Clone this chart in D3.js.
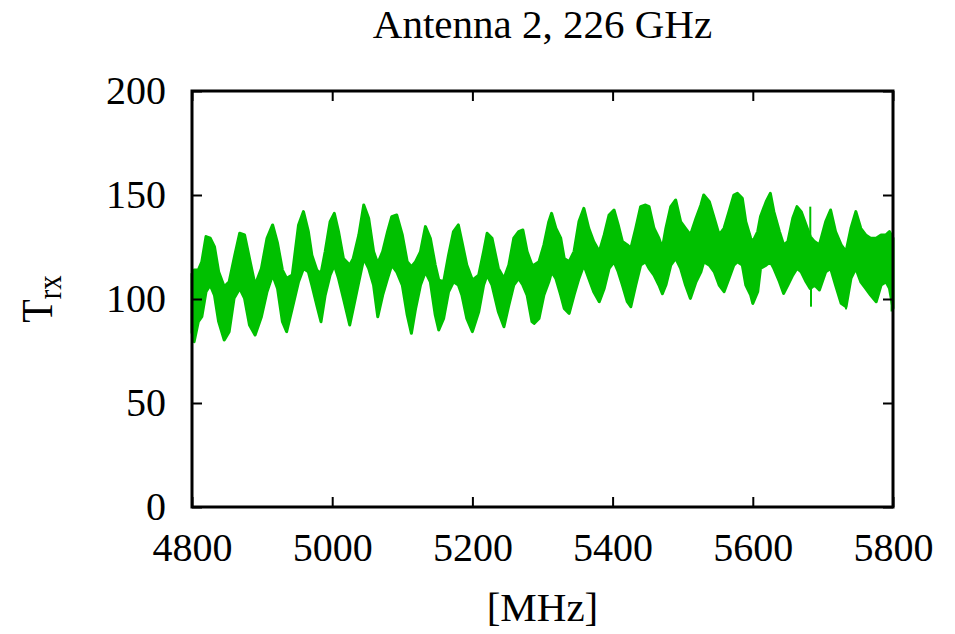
<!DOCTYPE html>
<html>
<head>
<meta charset="utf-8">
<script src="https://cdn.jsdelivr.net/npm/d3@7"></script>
<style>
  body { margin: 0; background: #fff; }
  text { font-family: "Liberation Serif", "Times New Roman", serif; }
</style>
</head>
<body>
<div id="trxChart"></div>
<script>
// values: upper / lower edge of the noisy trace
const freqMHz = [4800, 4803, 4809, 4814, 4820, 4826, 4832, 4838, 4846, 4853, 4860, 4868, 4875, 4882, 4890, 4899, 4907, 4915, 4922, 4929, 4935, 4943, 4952, 4959,
  4966, 4971, 4978, 4984, 4990, 4997, 5003, 5009, 5016, 5025, 5030, 5038, 5045, 5052, 5059, 5065, 5072, 5079, 5085, 5092, 5100, 5107, 5113, 5119,
  5126, 5133, 5140, 5147, 5152, 5159, 5166, 5173, 5180, 5185, 5192, 5200, 5209, 5216, 5221, 5228, 5237, 5245, 5252, 5259, 5266, 5272, 5278, 5285,
  5288, 5295, 5302, 5309, 5313, 5319, 5326, 5331, 5338, 5345, 5352, 5359, 5366, 5373, 5381, 5388, 5395, 5402, 5408, 5414, 5421, 5426, 5433, 5440,
  5447, 5452, 5459, 5466, 5471, 5476, 5483, 5490, 5497, 5504, 5511, 5519, 5526, 5530, 5538, 5545, 5552, 5559, 5566, 5573, 5578, 5585, 5590, 5597, 5600, 5607,
  5611, 5619, 5625, 5630, 5638, 5644, 5650, 5657, 5663, 5669, 5676, 5682, 5688, 5695, 5704, 5711, 5718, 5726, 5733, 5740, 5747, 5754, 5761, 5768, 5776, 5783, 5790, 5795, 5800];

const trxHigh = [112, 113.9, 113.9, 117.9, 130.0, 129.2, 125.2, 113.1, 105.9, 108.3, 119.5, 131.6, 130.8, 119.5, 106.7, 114.7, 129.2, 135.6, 126.8, 113.9, 109.9, 111.5, 135.6, 142.0,
  132.4, 121.1, 113.9, 112.3, 122.8, 137.2, 141.2, 132.4, 119.5, 116.3, 119.5, 130.8, 145.2, 138.8, 122.8, 117.1, 122.8, 132.4, 139.6, 140.4, 130.8, 117.9, 115.5, 117.9,
  122.8, 134.8, 129.2, 116.3, 109.1, 108.3, 121.1, 132.4, 135.6, 127.6, 116.3, 109.1, 111.5, 122.8, 131.6, 129.2, 114.7, 109.9, 116.3, 129.2, 132.4, 133.2, 122.8, 116.3,
  116.3, 117.9, 126.0, 137.2, 141.2, 134.0, 129.2, 119.5, 117.9, 122.8, 137.2, 143.6, 134.0, 127.6, 122.8, 130.8, 140.4, 142.8, 135.6, 127.6, 126.0, 124.4, 134.0, 144.4,
  145.2, 144.4, 134.0, 129.2, 124.4, 134.0, 144.4, 147.6, 137.2, 134.0, 130.8, 138.8, 145.2, 150.0, 146.8, 138.8, 130.8, 134.0, 142.0, 150.0, 150.8, 148.4, 137.2, 129.2, 127.6, 132.4,
  139.6, 146.8, 150.8, 142.0, 132.4, 126.0, 127.6, 138.8, 144.4, 142.0, 135.6, 130.0, 127.6, 126.0, 137.2, 142.8, 132.4, 126.0, 122.8, 134.0, 142.0, 134.0, 130.8, 129.2, 129.2, 130.8, 130.8, 132.4, 129.2];

const trxLow = [84, 79.5, 89.1, 91.5, 103.5, 106.7, 101.9, 89.1, 80.3, 84.3, 100.3, 105.1, 100.3, 87.5, 82.7, 91.5, 103.5, 111.5, 105.1, 89.1, 84.3, 95.5, 108.3, 114.7,
  113.1, 106.7, 97.1, 89.1, 101.9, 111.5, 116.3, 109.9, 100.3, 87.5, 95.5, 108.3, 119.5, 114.7, 106.7, 91.5, 101.9, 109.9, 116.3, 113.1, 106.7, 92.3, 83.5, 95.5,
  106.7, 113.1, 108.3, 92.3, 85.1, 90.7, 103.5, 108.3, 106.7, 101.9, 90.7, 84.3, 93.9, 106.7, 111.5, 106.7, 93.9, 86.7, 97.1, 106.7, 109.9, 106.7, 101.9, 89.1,
  88.3, 90.7, 101.9, 108.3, 113.1, 109.9, 101.9, 95.5, 93.1, 101.9, 109.9, 116.3, 109.9, 103.5, 98.7, 105.1, 114.7, 117.9, 113.1, 106.7, 98.7, 96.3, 106.7, 116.3,
  117.9, 114.7, 111.5, 106.7, 102.5, 106.7, 116.3, 119.5, 114.7, 106.7, 100.3, 108.3, 113.1, 117.9, 116.3, 113.1, 106.7, 103.5, 109.9, 116.3, 117.9, 116.3, 106.7, 101.9, 97.9, 103.5,
  114.7, 116.3, 117.9, 114.7, 108.3, 102.7, 106.7, 111.5, 114.7, 113.1, 108.3, 105.0, 106.7, 104.3, 113.1, 114.7, 106.7, 97.9, 96.3, 109.9, 114.7, 108.3, 105.1, 101.9, 98.7, 106.7, 108.3, 105.1, 95.5];

// a few single-channel spikes that stick out of the band
const spikeFreq = [5682, 5683, 5733, 5798];
const spikeTrx  = [144.4, 96.3, 95.0, 94.0];

const xTicks = [4800, 5000, 5200, 5400, 5600, 5800];
const yTicks = [0, 50, 100, 150, 200];

function createTrxChart() {
    const margin = { top: 91, right: 62, bottom: 127, left: 192 };
    const width = 955 - margin.left - margin.right;
    const height = 634 - margin.top - margin.bottom;

    const svg = d3.select("#trxChart")
        .append("svg")
        .attr("width", width + margin.left + margin.right)
        .attr("height", height + margin.top + margin.bottom)
        .append("g")
        .attr("transform", `translate(${margin.left},${margin.top})`);

    const x = d3.scaleLinear().domain([4800, 5800]).range([0, width]);
    const y = d3.scaleLinear().domain([0, 200]).range([height, 0]);

    const data = freqMHz.map((f, i) => ({ f: f, hi: trxHigh[i], lo: trxLow[i] }));

    // the trace (dense noisy line drawn as its filled envelope)
    svg.append("path")
        .datum(data)
        .attr("fill", "#00c000")
        .attr("stroke", "#00c000")
        .attr("stroke-width", 3)
        .attr("stroke-linejoin", "round")
        .attr("d", d3.area()
            .x(d => x(d.f))
            .y0(d => y(d.lo))
            .y1(d => y(d.hi)));

    // spikes start from the middle of the band at that frequency
    const midAt = f => {
        const i = Math.max(1, d3.bisectLeft(freqMHz, f));
        const a = data[i - 1], b = data[i];
        const t = (f - a.f) / (b.f - a.f);
        return ((a.hi + a.lo) / 2) * (1 - t) + ((b.hi + b.lo) / 2) * t;
    };

    svg.selectAll("line.spike")
        .data(spikeFreq.map((f, i) => ({ f: f, v: spikeTrx[i] })))
        .join("line")
        .attr("class", "spike")
        .attr("x1", d => x(d.f))
        .attr("x2", d => x(d.f))
        .attr("y1", d => y(d.v))
        .attr("y2", d => y(midAt(d.f)))
        .attr("stroke", "#00c000")
        .attr("stroke-width", 2);

    // axes, ticks pointing inwards, mirrored like gnuplot
    const tick = 10;
    const styleAxis = g => {
        g.select(".domain").remove();
        g.selectAll(".tick line").attr("stroke", "#000").attr("stroke-width", 2);
        g.selectAll(".tick text")
            .attr("fill", "#000")
            .style("font-size", "40px")
            .style("font-family", "'Liberation Serif', serif");
    };

    svg.append("g")
        .attr("transform", `translate(0,${height})`)
        .call(d3.axisBottom(x).tickValues(xTicks).tickSizeInner(-tick).tickSizeOuter(0).tickPadding(26).tickFormat(d3.format("d")))
        .call(styleAxis);

    svg.append("g")
        .call(d3.axisTop(x).tickValues(xTicks).tickSizeInner(-tick).tickSizeOuter(0).tickFormat(""))
        .call(styleAxis);

    svg.append("g")
        .call(d3.axisLeft(y).tickValues(yTicks).tickSizeInner(-tick).tickSizeOuter(0).tickPadding(26).tickFormat(d3.format("d")))
        .call(styleAxis);

    svg.append("g")
        .attr("transform", `translate(${width},0)`)
        .call(d3.axisRight(y).tickValues(yTicks).tickSizeInner(-tick).tickSizeOuter(0).tickFormat(""))
        .call(styleAxis);

    // frame
    svg.append("rect")
        .attr("width", width)
        .attr("height", height)
        .attr("fill", "none")
        .attr("stroke", "#000")
        .attr("stroke-width", 3);

    // title
    svg.append("text")
        .attr("x", width / 2)
        .attr("y", -53)
        .attr("text-anchor", "middle")
        .style("font-size", "41px")
        .text("Antenna 2, 226 GHz");

    // x label
    svg.append("text")
        .attr("x", width / 2)
        .attr("y", height + 114)
        .attr("text-anchor", "middle")
        .style("font-size", "41px")
        .text("[MHz]");

    // y label with subscript
    const yl = svg.append("text")
        .attr("transform", `translate(${-140},${height / 2}) rotate(-90) scale(0.85,1)`)
        .attr("text-anchor", "middle")
        .style("font-size", "45px");
    yl.append("tspan").text("T");
    yl.append("tspan").attr("dy", 9).style("font-size", "34px").text("rx");
}

createTrxChart();
</script>
</body>
</html>
